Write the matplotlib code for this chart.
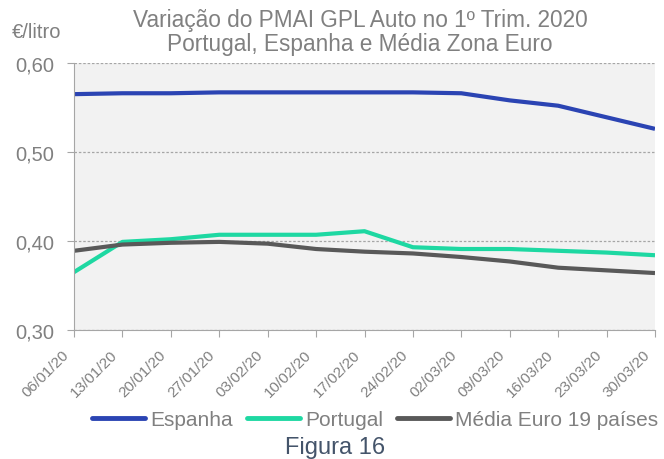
import matplotlib.pyplot as plt
from matplotlib.ticker import FuncFormatter

plt.rcParams['font.family'] = ['Liberation Sans', 'DejaVu Sans']

# dados
datas = ['06/01/20', '13/01/20', '20/01/20', '27/01/20', '03/02/20', '10/02/20',
         '17/02/20', '24/02/20', '02/03/20', '09/03/20', '16/03/20', '23/03/20', '30/03/20']
espanha = [0.565, 0.566, 0.566, 0.567, 0.567, 0.567, 0.567, 0.567, 0.566, 0.558, 0.552, 0.539, 0.526]
portugal = [0.365, 0.399, 0.402, 0.407, 0.407, 0.407, 0.411, 0.393, 0.391, 0.391, 0.389, 0.387, 0.384]
media_euro = [0.389, 0.396, 0.398, 0.399, 0.397, 0.391, 0.388, 0.386, 0.382, 0.377, 0.370, 0.367, 0.364]

cinza = '#808080'

fig = plt.figure(figsize=(6.64, 4.60), dpi=100)
ax = fig.add_axes([74 / 664, 1 - 331 / 460, 581 / 664, 267 / 460])
ax.set_facecolor('#f2f2f2')

x = list(range(len(datas)))
ax.plot(x, espanha, color='#2b44b3', lw=3, label='Espanha', solid_capstyle='butt')
ax.plot(x, portugal, color='#1ed8a2', lw=3, label='Portugal', solid_capstyle='butt')
ax.plot(x, media_euro, color='#595959', lw=3, label='Média Euro 19 países', solid_capstyle='butt')

ax.set_xlim(0, len(datas) - 1)
ax.set_ylim(0.30, 0.60)
ax.set_yticks([0.30, 0.40, 0.50, 0.60])
ax.yaxis.set_major_formatter(FuncFormatter(lambda v, p: f'{v:.2f}'.replace('.', ',')))
ax.set_xticks(x)
ax.set_xticklabels([])
# rótulos das datas, ligeiramente à esquerda de cada marca, como no original
for xi, d in zip(x, datas):
    ax.annotate(d, (xi, 0), xycoords=('data', 'axes fraction'), xytext=(-5, -16),
                textcoords='offset points', rotation=45, ha='right', va='center',
                rotation_mode='anchor', fontsize=11, color=cinza, annotation_clip=False)

ax.grid(axis='y', color='#a6a6a6', linestyle=(0, (2, 1.5)), lw=0.9)
ax.set_axisbelow(True)
for s in ['top', 'right']:
    ax.spines[s].set_visible(False)
for s in ['left', 'bottom']:
    ax.spines[s].set_color('#a6a6a6')
ax.tick_params(axis='y', labelsize=14.5, colors=cinza, length=5, color='#a6a6a6', pad=9)
ax.tick_params(axis='x', length=5, color='#a6a6a6')
for t in ax.get_yticklabels():
    t.set_color(cinza)

fig.text(360 / 664, 1 - 21 / 460, 'Variação do PMAI GPL Auto no 1º Trim. 2020',
         ha='center', va='center', fontsize=16.3, color='#808080')
fig.text(360 / 664, 1 - 45 / 460, 'Portugal, Espanha e Média Zona Euro',
         ha='center', va='center', fontsize=16.3, color='#808080')
fig.text(12 / 664, 1 - 32 / 460, '€/litro', ha='left', va='center', fontsize=14.5, color=cinza)

leg = fig.legend(loc='center', bbox_to_anchor=(375 / 664, 1 - 421 / 460), ncol=3, frameon=False,
                 fontsize=15, handlelength=2.55, handletextpad=0.25, columnspacing=0.67)
for t in leg.get_texts():
    t.set_color(cinza)
for h in leg.get_lines():
    h.set_linewidth(3.5)
    h.set_solid_capstyle('round')

fig.text(335 / 664, 1 - 448 / 460, 'Figura 16', ha='center', va='center', fontsize=17, color='#44546a')

fig.savefig('out.png', dpi=100)
